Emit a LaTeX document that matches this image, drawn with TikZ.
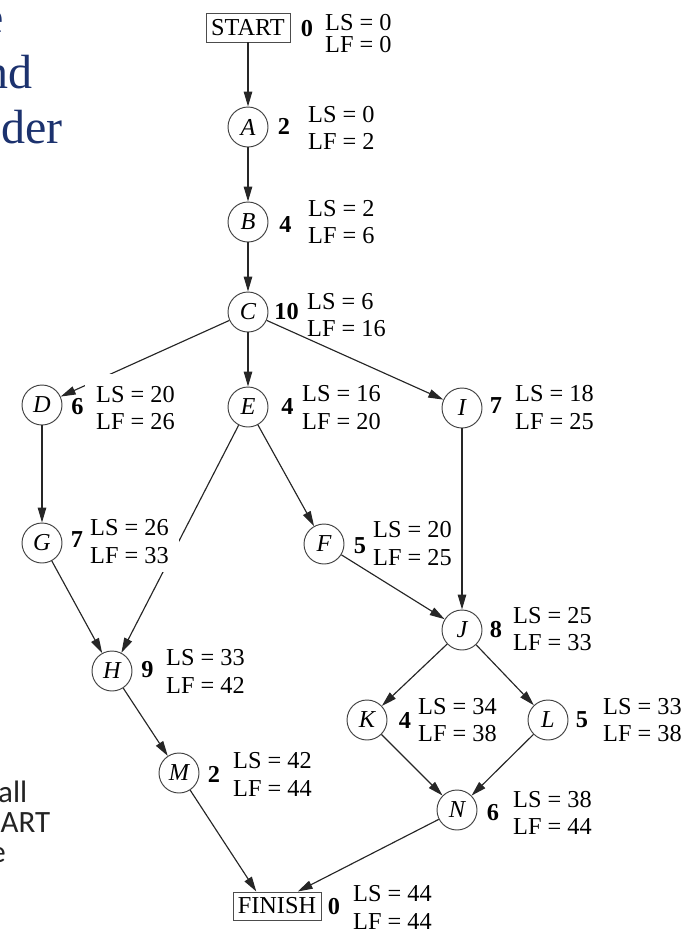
\documentclass[tikz,border=0pt]{standalone}
\usepackage{fontspec}
\setmainfont{Liberation Serif}
\newfontfamily\fragsans{Carlito}
\usetikzlibrary{arrows.meta}
\definecolor{navy}{RGB}{28,50,110}
\definecolor{fraggray}{RGB}{35,35,35}
\begin{document}
\begin{tikzpicture}[x=1pt,y=-1pt,
  every node/.style={font=\fontsize{24.3}{27.5}\selectfont},
  act/.style={circle, draw=black!75, line width=0.95pt, minimum size=40pt, inner sep=0pt,
    font=\fontsize{24.3}{27.5}\selectfont\itshape},
  endbox/.style={rectangle, draw=black!70, line width=0.95pt, inner sep=0pt},
  dur/.style={font=\fontsize{24.3}{27.5}\selectfont\bfseries, inner sep=0pt},
  lsf/.style={anchor=west, align=left, fill=white, inner xsep=3pt, inner ysep=3pt},
  conn/.style={draw=black!85, line width=1.15pt, -{Triangle[length=15pt,width=8.5pt]}},
  slidetop/.style={anchor=base east, text=navy, inner sep=0pt, font=\fontsize{48}{55}\selectfont},
  slidebot/.style={anchor=base east, text=fraggray, inner sep=0pt, font=\fragsans\fontsize{31}{30}\selectfont}
]
\useasboundingbox (0,0) rectangle (693,935);
\clip (0,0) rectangle (693,935);

% cut-off slide text
\node[slidetop] (t1) at (4.5,33) {e};
\node[slidetop] (t2) at (33,88) {nd};
\node[slidetop] (t3) at (63,143) {der};
\node[slidebot] (b1) at (27.5,802) {all};
\node[slidebot] (b2) at (50.5,832) {ART};
\node[slidebot] (b3) at (6,862) {e};

% activities
\node[endbox, minimum width=84pt, minimum height=29pt] (START) at (248,27.5) {START};
\node[act] (A) at (248,127) {A};
\node[act] (B) at (248,222) {B};
\node[act] (C) at (248,312) {C};
\node[act] (D) at (42,405) {D};
\node[act] (E) at (248,407) {E};
\node[act] (I) at (462,408) {I};
\node[act] (F) at (324,544) {F};
\node[act] (G) at (42,543) {G};
\node[act] (H) at (112,671) {H};
\node[act] (J) at (462,630) {J};
\node[act] (K) at (367,720) {K};
\node[act] (L) at (548,720) {L};
\node[act] (N) at (457,810) {N};
\node[act] (M) at (179,773) {M};
\node[endbox, minimum width=88pt, minimum height=28pt] (FINISH) at (277,906) {FINISH};

% precedence arrows
\draw[conn] (START) -- (A);
\draw[conn] (A) -- (B);
\draw[conn] (B) -- (C);
\draw[conn] (C) -- (D);
\draw[conn] (C) -- (E);
\draw[conn] (C) -- (I);
\draw[conn] (D) -- (G);
\draw[conn] (E) -- (H);
\draw[conn] (E) -- (F);
\draw[conn] (I) -- (J);
\draw[conn] (F) -- (J);
\draw[conn] (G) -- (H);
\draw[conn] (H) -- (M);
\draw[conn] (J) -- (K);
\draw[conn] (J) -- (L);
\draw[conn] (K) -- (N);
\draw[conn] (L) -- (N);
\draw[conn] (M) -- (FINISH.145);
\draw[conn] (N) -- (FINISH.35);

% LS / LF labels
\node[lsf, inner sep=0pt] (lSTARTa) at (325,22.5) {LS = 0};
\node[lsf, inner sep=0pt] (lSTARTb) at (325,44.5) {LF = 0};
\node[lsf] (lA) at (305,128) {LS = 0\\LF = 2};
\node[lsf] (lB) at (305,222) {LS = 2\\LF = 6};
\node[lsf, inner sep=0pt] (lC) at (307,315) {LS = 6\\LF = 16};
\node[lsf, inner xsep=11pt, inner ysep=12pt] (lD) at (85,408) {LS = 20\\LF = 26};
\node[lsf] (lE) at (299,407.5) {LS = 16\\LF = 20};
\node[lsf] (lI) at (512,407.5) {LS = 18\\LF = 25};
\node[lsf] (lF) at (370,543.5) {LS = 20\\LF = 25};
\node[lsf, inner xsep=10pt, inner ysep=9pt] (lG) at (80,541.5) {LS = 26\\LF = 33};
\node[lsf] (lH) at (163,671.5) {LS = 33\\LF = 42};
\node[lsf] (lJ) at (510,629) {LS = 25\\LF = 33};
\node[lsf] (lK) at (415,720) {LS = 34\\LF = 38};
\node[lsf] (lL) at (600,720) {LS = 33\\LF = 38};
\node[lsf] (lN) at (510,813) {LS = 38\\LF = 44};
\node[lsf] (lM) at (230,774.5) {LS = 42\\LF = 44};
\node[lsf] (lFINISH) at (350,907.5) {LS = 44\\LF = 44};

% durations
\node[dur] (dSTART) at (307,29) {0};
\node[dur] (dA) at (284,126) {2};
\node[dur] (dB) at (285.5,224) {4};
\node[dur] (dC) at (286.5,312) {10};
\node[dur] (dD) at (77.5,407) {6};
\node[dur] (dE) at (287.5,406) {4};
\node[dur] (dI) at (496,406) {7};
\node[dur] (dF) at (360,546) {5};
\node[dur] (dG) at (77,540) {7};
\node[dur] (dH) at (147.5,670) {9};
\node[dur] (dJ) at (496,630) {8};
\node[dur] (dK) at (405,720) {4};
\node[dur] (dL) at (582,720) {5};
\node[dur] (dN) at (493,813) {6};
\node[dur] (dM) at (214,774) {2};
\node[dur] (dFINISH) at (334,907) {0};
\end{tikzpicture}
\end{document}
